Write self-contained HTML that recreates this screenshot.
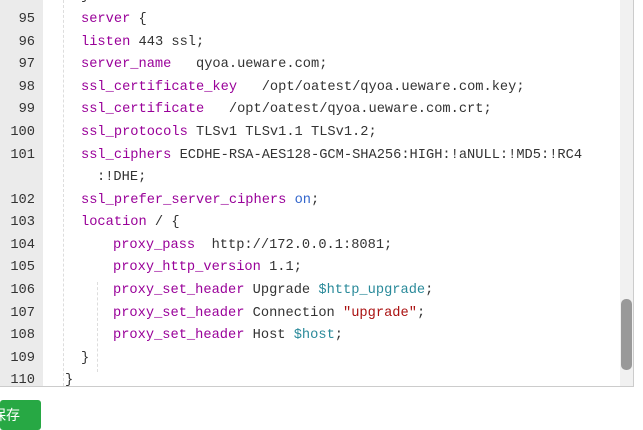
<!DOCTYPE html>
<html><head><style>
body{margin:0;width:643px;height:417px;background:#fff;position:relative;overflow:hidden;font-family:"Liberation Mono",monospace;font-size:13.7px;color:#333}
.g{position:absolute;left:0;top:0;width:43px;height:387px;background:#ebebeb}
.bd{position:absolute;left:0;top:386px;width:634px;height:1px;background:#ccc}
.rb{position:absolute;left:633px;top:0;width:1px;height:387px;background:#ccc}
.sb{position:absolute;left:620px;top:0;width:13px;height:386px;background:#f1f1f1}
.th{position:absolute;left:621px;top:299px;width:11px;height:71px;background:#999;border-radius:5px}
.l{position:absolute;left:0;height:22px;line-height:22px;white-space:pre}
.n{position:absolute;left:0;width:35px;text-align:right;color:#333}
.c{position:absolute;left:81px}
.k{color:#990099}.b{color:#3366cc}.v{color:#2a8a9a}.s{color:#a11}
.ig{position:absolute;width:0;border-left:1px dashed #ddd}
.btn{position:absolute;left:0;top:400px;width:41px;height:30px;background:#27a844;border-radius:3px;color:#fff;font-family:"Liberation Sans","Noto Sans CJK SC",sans-serif;font-size:14px;line-height:30px;text-indent:-8px;overflow:hidden}
</style></head><body>
<div class="g"></div><div class="sb"></div><div class="th"></div><div class="rb"></div><div class="bd"></div>
<div class="ig" style="left:63px;top:0;height:386px"></div>
<div class="ig" style="left:97px;top:282px;height:90px"></div>
<div class="l" style="top:-14px"><span class="c" style="left:81px">}</span></div>
<div class="l" style="top:9px"><span class="n">95</span><span class="c"><span class="k">server</span> {</span></div>
<div class="l" style="top:32px"><span class="n">96</span><span class="c"><span class="k">listen</span> 443 ssl;</span></div>
<div class="l" style="top:54px"><span class="n">97</span><span class="c"><span class="k">server_name</span>   qyoa.ueware.com;</span></div>
<div class="l" style="top:77px"><span class="n">98</span><span class="c"><span class="k">ssl_certificate_key</span>   /opt/oatest/qyoa.ueware.com.key;</span></div>
<div class="l" style="top:99px"><span class="n">99</span><span class="c"><span class="k">ssl_certificate</span>   /opt/oatest/qyoa.ueware.com.crt;</span></div>
<div class="l" style="top:122px"><span class="n">100</span><span class="c"><span class="k">ssl_protocols</span> TLSv1 TLSv1.1 TLSv1.2;</span></div>
<div class="l" style="top:145px"><span class="n">101</span><span class="c"><span class="k">ssl_ciphers</span> ECDHE-RSA-AES128-GCM-SHA256:HIGH:!aNULL:!MD5:!RC4</span></div>
<div class="l" style="top:167px"><span class="c" style="left:97px">:!DHE;</span></div>
<div class="l" style="top:190px"><span class="n">102</span><span class="c"><span class="k">ssl_prefer_server_ciphers</span> <span class="b">on</span>;</span></div>
<div class="l" style="top:212px"><span class="n">103</span><span class="c"><span class="k">location</span> / {</span></div>
<div class="l" style="top:235px"><span class="n">104</span><span class="c" style="left:113px"><span class="k">proxy_pass</span>  http://172.0.0.1:8081;</span></div>
<div class="l" style="top:257px"><span class="n">105</span><span class="c" style="left:113px"><span class="k">proxy_http_version</span> 1.1;</span></div>
<div class="l" style="top:280px"><span class="n">106</span><span class="c" style="left:113px"><span class="k">proxy_set_header</span> Upgrade <span class="v">$http_upgrade</span>;</span></div>
<div class="l" style="top:303px"><span class="n">107</span><span class="c" style="left:113px"><span class="k">proxy_set_header</span> Connection <span class="s">"upgrade"</span>;</span></div>
<div class="l" style="top:325px"><span class="n">108</span><span class="c" style="left:113px"><span class="k">proxy_set_header</span> Host <span class="v">$host</span>;</span></div>
<div class="l" style="top:348px"><span class="n">109</span><span class="c">}</span></div>
<div class="l" style="top:370px"><span class="n">110</span><span class="c" style="left:65px">}</span></div>
<div class="btn">保存</div>
</body></html>
